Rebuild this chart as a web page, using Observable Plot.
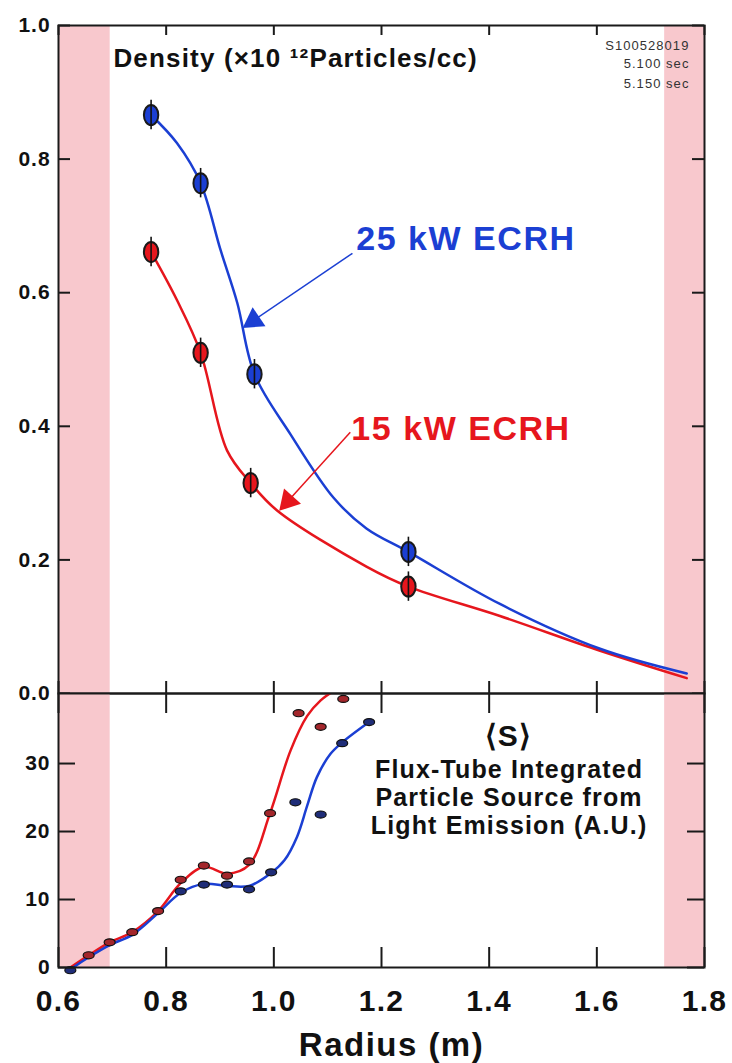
<!DOCTYPE html>
<html><head><meta charset="utf-8">
<script src="https://cdn.jsdelivr.net/npm/d3@7"></script>
<script src="https://cdn.jsdelivr.net/npm/@observablehq/plot@0.6"></script>
<style>
body{margin:0;background:#fff;}
#wrap{position:relative;width:732px;height:1063px;overflow:hidden;background:#fff;}
#wrap svg{position:absolute;left:0;}
</style></head><body><div id="wrap"></div>
<script>
// ---------- data ----------
const xTicks = [0.6, 0.8, 1.0, 1.2, 1.4, 1.6, 1.8];
const densityTicks = [0, 0.2, 0.4, 0.6, 0.8, 1.0];
const sourceTicks = [0, 10, 20, 30];
const shadedStart = [0.6, 1.726];
const shadedEnd = [0.696, 1.8];

// measured density points (radius m, density 1e12/cc)
const radius25 = [0.772, 0.864, 0.964, 1.25];
const density25 = [0.866, 0.764, 0.478, 0.212];
const radius15 = [0.772, 0.864, 0.957, 1.25];
const density15 = [0.661, 0.510, 0.315, 0.160];
const densityErr = [0.022, 0.022, 0.022, 0.022];

// fitted density curves (knots)
const fit25R = [0.772, 0.820, 0.864, 0.901, 0.932, 0.964, 1.031, 1.111, 1.172, 1.25, 1.42, 1.606, 1.767];
const fit25D = [0.866, 0.824, 0.764, 0.664, 0.585, 0.478, 0.388, 0.293, 0.247, 0.212, 0.134, 0.067, 0.030];
const fit15R = [0.772, 0.820, 0.864, 0.913, 0.957, 1.006, 1.172, 1.25, 1.42, 1.606, 1.767];
const fit15D = [0.661, 0.589, 0.510, 0.364, 0.315, 0.274, 0.190, 0.160, 0.116, 0.064, 0.023];

// particle source points
const srcR15 = [0.656, 0.695, 0.737, 0.785, 0.827, 0.870, 0.913, 0.954, 0.993, 1.046, 1.087, 1.129];
const srcS15 = [1.8, 3.7, 5.2, 8.3, 12.9, 15.0, 13.5, 15.6, 22.7, 37.4, 35.4, 39.5];
const srcR25 = [0.622, 0.827, 0.870, 0.913, 0.954, 0.995, 1.040, 1.087, 1.127, 1.177];
const srcS25 = [-0.4, 11.2, 12.2, 12.2, 11.5, 14.0, 24.3, 22.5, 33.0, 36.1];

// fitted source curves
const srcFitR15 = [0.622, 0.656, 0.695, 0.737, 0.785, 0.827, 0.870, 0.913, 0.954, 0.993, 1.031, 1.062, 1.087, 1.110];
const srcFitS15 = [0.0, 1.8, 3.7, 5.2, 8.3, 12.4, 14.8, 13.8, 15.1, 22.7, 31.9, 37.0, 39.3, 40.6];
const srcFitR25 = [0.622, 0.656, 0.695, 0.737, 0.785, 0.827, 0.870, 0.913, 0.954, 0.995, 1.020, 1.043, 1.062, 1.080, 1.105, 1.127, 1.177];
const srcFitS25 = [-0.3, 1.5, 3.3, 4.8, 8.0, 11.0, 12.3, 12.0, 12.0, 13.9, 15.8, 19.2, 23.8, 28.0, 31.4, 33.1, 36.1];

// annotation arrows (data coordinates)
const arrowLabels = ["25 kW ECRH", "15 kW ECRH"];
const arrowX1 = [1.146, 1.142];
const arrowY1 = [0.659, 0.391];
const arrowX2 = [0.947, 1.014];
const arrowY2 = [0.550, 0.277];
const labelX = [1.153, 1.144];
const labelY = [0.664, 0.379];

const shotLines = ["S100528019", "5.100 sec", "5.150 sec"];
const shotY = [0.963, 0.936, 0.906];
const sourceLines = ["Flux-Tube Integrated", "Particle Source from", "Light Emission (A.U.)"];
const sourceLineY = [27.9, 23.8, 19.7];

// ---------- styling ----------
const blue = "#1b3fd3", red = "#e6161d", ink = "#1a1a1a", pink = "#f8c8cd";
const seriesColor = {"25 kW ECRH": blue, "15 kW ECRH": red};
const font = "'Liberation Sans', Arial, Helvetica, sans-serif";
const W = 732, ML = 58, MR = 28;
const frameW = W - ML - MR;
const curve = "catmull-rom";

function ellipse(kx, ky) {
  return {draw(ctx, size) {
    const r = Math.sqrt(size / Math.PI), rx = r * kx, ry = r * ky, k = 0.5523;
    ctx.moveTo(rx, 0);
    ctx.bezierCurveTo(rx, ry * k, rx * k, ry, 0, ry);
    ctx.bezierCurveTo(-rx * k, ry, -rx, ry * k, -rx, 0);
    ctx.bezierCurveTo(-rx, -ry * k, -rx * k, -ry, 0, -ry);
    ctx.bezierCurveTo(rx * k, -ry, rx, -ry * k, rx, 0);
    ctx.closePath();
  }};
}

const bands = shadedStart.map((a, i) => ({x1: a, x2: shadedEnd[i]}));
const pts25 = radius25.map((r, i) => ({r, d: density25[i], e: densityErr[i]}));
const pts15 = radius15.map((r, i) => ({r, d: density15[i], e: densityErr[i]}));
const fit25 = fit25R.map((r, i) => ({r, d: fit25D[i]}));
const fit15 = fit15R.map((r, i) => ({r, d: fit15D[i]}));
const arrows = arrowLabels.map((label, i) => ({label, x1: arrowX1[i], y1: arrowY1[i], x2: arrowX2[i], y2: arrowY2[i], lx: labelX[i], ly: labelY[i]}));

const topH = 694, topMT = 25, topMB = 1;
const topFrameH = topH - topMT - topMB;

function makeTopPlot(heads, links) {
  return Plot.plot({
    width: W, height: topH,
    marginLeft: ML, marginRight: MR, marginTop: topMT, marginBottom: topMB,
    style: {fontFamily: font, fontWeight: "bold", background: "transparent", overflow: "visible"},
    x: {domain: [0.6, 1.8], axis: null},
    y: {domain: [0, 1.0], axis: null},
    marks: [
      Plot.rect(bands, {x1: "x1", x2: "x2", fill: pink}),
      Plot.line(fit15, {x: "r", y: "d", stroke: red, strokeWidth: 2.5, curve}),
      Plot.line(fit25, {x: "r", y: "d", stroke: blue, strokeWidth: 2.5, curve}),
      Plot.dot(pts15, {x: "r", y: "d", r: 10, symbol: ellipse(0.72, 1), fill: red, stroke: ink, strokeWidth: 2}),
      Plot.dot(pts25, {x: "r", y: "d", r: 10, symbol: ellipse(0.72, 1), fill: blue, stroke: ink, strokeWidth: 2}),
      Plot.ruleX(pts15.concat(pts25), {x: "r", y1: d => d.d - d.e, y2: d => d.d + d.e, stroke: "#111", strokeWidth: 1.6}),
      links,
      heads,
      Plot.text(arrows, {x: "lx", y: "ly", text: "label", fill: d => seriesColor[d.label], fontSize: 34, textAnchor: "start", lineAnchor: "bottom"}),
      Plot.text(["Density (×10 ¹²Particles/cc)"], {x: 0.702, y: 0.938, fontSize: 26, textAnchor: "start", lineAnchor: "bottom", fill: "#111"}),
      Plot.text(shotLines, {x: 1.772, y: (d, i) => shotY[i], fontSize: 13, fontWeight: "normal", textAnchor: "end", lineAnchor: "bottom", fill: "#333"}),
      Plot.tickY(densityTicks, {y: d => d, insetRight: frameW - 12, stroke: ink, strokeWidth: 2}),
      Plot.tickY(densityTicks, {y: d => d, insetLeft: frameW - 12, stroke: ink, strokeWidth: 2}),
      Plot.tickX(xTicks, {x: d => d, insetBottom: topFrameH - 10, stroke: ink, strokeWidth: 2}),
      Plot.tickX(xTicks, {x: d => d, insetTop: topFrameH - 12, stroke: ink, strokeWidth: 2}),
      Plot.frame({stroke: ink, strokeWidth: 2}),
      Plot.text(densityTicks, {y: d => d, frameAnchor: "left", dx: -8, textAnchor: "end", text: d => d.toFixed(1), fontSize: 21, fill: "#111"})
    ]
  });
}

// pass 1: get the scales to orient the arrow heads
const p0 = makeTopPlot([], []);
const sx = p0.scale("x"), sy = p0.scale("y");
const headData = arrows.map(a => {
  const px1 = sx.apply(a.x1), py1 = sy.apply(a.y1), px2 = sx.apply(a.x2), py2 = sy.apply(a.y2);
  const L = Math.hypot(px2 - px1, py2 - py1);
  const f = 10 / L;
  return {label: a.label, x1: a.x1, y1: a.y1,
    cx: a.x2 - f * (a.x2 - a.x1), cy: a.y2 - f * (a.y2 - a.y1),
    rot: Math.atan2(px2 - px1, -(py2 - py1)) * 180 / Math.PI};
});
const topChart = makeTopPlot(
  Plot.dot(headData, {x: "cx", y: "cy", symbol: "triangle", r: 8.5, rotate: "rot", fill: d => seriesColor[d.label], stroke: "none"}),
  Plot.link(headData, {x1: "x1", y1: "y1", x2: "cx", y2: "cy", stroke: d => seriesColor[d.label], strokeWidth: 1.5})
);

// ---------- bottom panel ----------
const s15 = srcR15.map((r, i) => ({r, s: srcS15[i]}));
const s25 = srcR25.map((r, i) => ({r, s: srcS25[i]}));
const f15 = srcFitR15.map((r, i) => ({r, s: srcFitS15[i]}));
const f25 = srcFitR25.map((r, i) => ({r, s: srcFitS25[i]}));

const botTop = 683, botH = 1063 - botTop, botMT = 10, botMB = botH - (967 - botTop);
const botFrameH = botH - botMT - botMB;

const bottomChart = Plot.plot({
  width: W, height: botH,
  marginLeft: ML, marginRight: MR, marginTop: botMT, marginBottom: botMB,
  style: {fontFamily: font, fontWeight: "bold", background: "transparent", overflow: "visible"},
  x: {domain: [0.6, 1.8], axis: null},
  y: {domain: [0, 40.3], axis: null},
  marks: [
    Plot.rect(bands, {x1: "x1", x2: "x2", fill: pink}),
    Plot.line(f15, {x: "r", y: "s", stroke: red, strokeWidth: 2.5, curve, clip: true}),
    Plot.line(f25, {x: "r", y: "s", stroke: blue, strokeWidth: 2.5, curve, clip: true}),
    Plot.dot(s25, {x: "r", y: "s", r: 4.4, symbol: ellipse(1.25, 0.8), fill: "#1f2d78", stroke: "#111", strokeWidth: 1.2}),
    Plot.dot(s15, {x: "r", y: "s", r: 4.4, symbol: ellipse(1.25, 0.8), fill: "#a3262b", stroke: "#111", strokeWidth: 1.2}),
    Plot.text(["⟨S⟩"], {x: 1.436, y: 32.6, fontSize: 30, textAnchor: "middle", lineAnchor: "bottom", fill: "#111"}),
    Plot.text(sourceLines, {x: 1.437, y: (d, i) => sourceLineY[i], fontSize: 25, textAnchor: "middle", lineAnchor: "bottom", fill: "#111"}),
    Plot.tickY(sourceTicks, {y: d => d, insetRight: frameW - 17, stroke: ink, strokeWidth: 2}),
    Plot.tickY(sourceTicks, {y: d => d, insetLeft: frameW - 17, stroke: ink, strokeWidth: 2}),
    Plot.tickX(xTicks, {x: d => d, insetBottom: botFrameH - 20, stroke: ink, strokeWidth: 2}),
    Plot.tickX(xTicks, {x: d => d, insetTop: botFrameH - 20, stroke: ink, strokeWidth: 2}),
    Plot.frame({stroke: ink, strokeWidth: 2}),
    Plot.text(sourceTicks, {y: d => d, frameAnchor: "left", dx: -8, textAnchor: "end", text: d => String(d), fontSize: 21, fill: "#111"}),
    Plot.text(xTicks, {x: d => d, frameAnchor: "bottom", dy: 43, textAnchor: "middle", lineAnchor: "bottom", text: d => d.toFixed(1), fontSize: 30, fill: "#111"}),
    Plot.text(["Radius (m)"], {frameAnchor: "bottom", dx: 10, dy: 88, textAnchor: "middle", lineAnchor: "bottom", fontSize: 33, fill: "#111"})
  ]
});

const wrap = document.getElementById("wrap");
topChart.style.top = "0px";
bottomChart.style.top = botTop + "px";
wrap.appendChild(topChart);
wrap.appendChild(bottomChart);

// the original lettering is slightly wide: add a little tracking
for (const t of wrap.querySelectorAll("text")) {
  const fs = parseFloat(getComputedStyle(t).fontSize);
  if (fs >= 14) t.style.letterSpacing = (fs * 0.045).toFixed(2) + "px";
  else t.style.letterSpacing = (fs * 0.08).toFixed(2) + "px";
}
</script>
</body></html>
